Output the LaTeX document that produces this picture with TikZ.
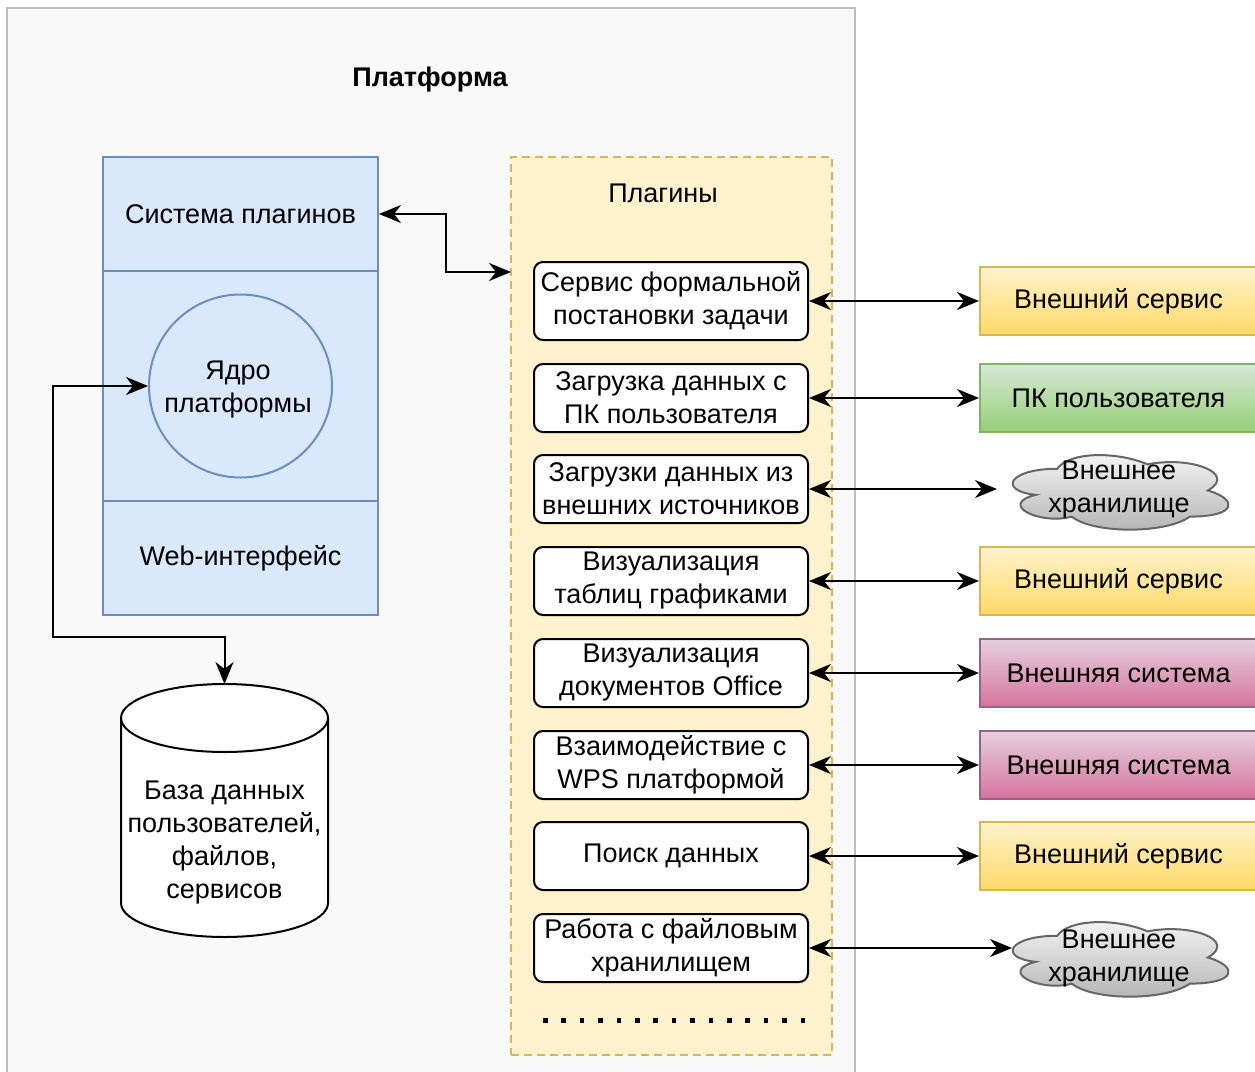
\documentclass[tikz,border=0pt]{standalone}
\usepackage{fontspec}
\setmainfont{Liberation Sans}
\usetikzlibrary{arrows.meta}
\definecolor{bggray}{HTML}{F9F9F9}
\definecolor{bgline}{HTML}{BDBDBD}
\definecolor{bluefill}{HTML}{DAE8FC}
\definecolor{blueline}{HTML}{6C8EBF}
\definecolor{yfill}{HTML}{FFF2CC}
\definecolor{yfill2}{HTML}{FFD966}
\definecolor{yline}{HTML}{D6B656}
\definecolor{gfill}{HTML}{D5E8D4}
\definecolor{gfill2}{HTML}{97D077}
\definecolor{gline}{HTML}{82B366}
\definecolor{pfill}{HTML}{E6D0DE}
\definecolor{pfill2}{HTML}{D5739D}
\definecolor{pline}{HTML}{996185}
\definecolor{cfill}{HTML}{F5F5F5}
\definecolor{cfill2}{HTML}{B3B3B3}
\definecolor{cline}{HTML}{666666}
\tikzset{
  txt/.style={font=\fontsize{27}{33}\selectfont, align=center, inner sep=0pt},
  bluebox/.style={txt, draw=blueline, fill=bluefill, line width=2pt, minimum width=275, minimum height=#1},
  plugbox/.style={txt, draw=black, fill=white, line width=2pt, rounded corners=9pt, minimum width=274, minimum height=#1},
  extbox/.style={txt, line width=2pt, minimum width=277, minimum height=68},
  yellowbox/.style={extbox, draw=yline, top color=yfill, bottom color=yfill2},
  greenbox/.style={extbox, draw=gline, top color=gfill, bottom color=gfill2},
  pinkbox/.style={extbox, draw=pline, top color=pfill, bottom color=pfill2},
  biarr/.style={line width=2pt, {Stealth[length=22pt,width=18pt,inset=7pt]}-{Stealth[length=22pt,width=18pt,inset=7pt]}},
  drawiocloud/.pic={
    \draw[draw=cline, line width=2pt, top color=cfill, bottom color=cfill2]
      (60.25,21.75) .. controls (12.05,21.75) and (0,43.5) .. (38.56,47.85)
      .. controls (0,57.42) and (43.38,78.3) .. (74.71,69.6)
      .. controls (96.4,87) and (168.7,87) .. (192.8,69.6)
      .. controls (241,69.6) and (241,52.2) .. (210.875,43.5)
      .. controls (241,26.1) and (192.8,8.7) .. (150.625,17.4)
      .. controls (120.5,4.35) and (72.3,4.35) .. (60.25,21.75) -- cycle;
  }
}
\begin{document}
\begin{tikzpicture}[x=1pt,y=-1pt]
\useasboundingbox (0,0) rectangle (1255,1071);
\clip (0,0) rectangle (1255,1071);
\fill[white] (0,0) rectangle (1255,1071);
% platform
\node[draw=bgline, fill=bggray, line width=2pt, minimum width=848, minimum height=1080, inner sep=0pt] (plat) at (431,548) {};
\node[txt, font=\fontsize{27}{33}\selectfont\bfseries] (title) at (430,80) {Платформа};
% left block
\node[bluebox=114] (sys) at (240.5,214) {Система плагинов};
\node[bluebox=230] (coreblk) at (240.5,386) {};
\node[bluebox=114] (web) at (240.5,558) {Web-интерфейс};
\node[circle, draw=blueline, fill=bluefill, line width=2pt, minimum size=183, inner sep=0pt] (kernel) at (240.5,386) {};
\node[txt] (kerneltext) at (238,390) {Ядро\\платформы};
% database cylinder
\filldraw[fill=white, draw=black, line width=2pt]
  (121,718) -- (121,903) .. controls (121,921.8) and (167.3,937) .. (224.5,937)
  .. controls (281.7,937) and (328,921.8) .. (328,903) -- (328,718)
  .. controls (328,699.2) and (281.7,684) .. (224.5,684)
  .. controls (167.3,684) and (121,699.2) .. (121,718) -- cycle;
\draw[line width=2pt] (121,718) .. controls (121,736.8) and (167.3,752) .. (224.5,752)
  .. controls (281.7,752) and (328,736.8) .. (328,718);
\coordinate (dbtop) at (224.5,684);
\node[txt] (db) at (224.5,843) {База данных\\пользователей,\\файлов,\\сервисов};
% plugins container
\node[draw=yline, fill=yfill, dashed, dash pattern=on 8pt off 5pt, line width=2pt, minimum width=321, minimum height=898, inner sep=0pt] (cont) at (671.5,606) {};
\node[txt] (plugtitle) at (663,193) {Плагины};
\coordinate (cin) at (511,272);
% plugin boxes
\node[plugbox=78] (p1) at (671,301) {Сервис формальной\\постановки задачи};
\node[plugbox=68] (p2) at (671,398) {Загрузка данных с\\ПК пользователя};
\node[plugbox=68] (p3) at (671,489) {Загрузки данных из\\внешних источников};
\node[plugbox=68] (p4) at (671,581) {Визуализация\\таблиц графиками};
\node[plugbox=68] (p5) at (671,673) {Визуализация\\документов Office};
\node[plugbox=68] (p6) at (671,765) {Взаимодействие с\\WPS платформой};
\node[plugbox=68] (p7) at (671,856) {Поиск данных};
\node[plugbox=68] (p8) at (671,948) {Работа с файловым\\хранилищем};
\foreach \i in {0,...,14} \fill (543+18.4*\i, 1018) rectangle ++(4.5,4.5);
% external
\node[yellowbox] (e1) at (1118.5,301) {Внешний сервис};
\node[greenbox] (e2) at (1118.5,398) {ПК пользователя};
\pic at (997,447) {drawiocloud};
\node[txt] (e3text) at (1119,490) {Внешнее\\хранилище};
\node[yellowbox] (e4) at (1118.5,581) {Внешний сервис};
\node[pinkbox] (e5) at (1118.5,673) {Внешняя система};
\node[pinkbox] (e6) at (1118.5,765) {Внешняя система};
\node[yellowbox] (e7) at (1118.5,856) {Внешний сервис};
\pic at (997,914) {drawiocloud};
\node[txt] (e8text) at (1119,958) {Внешнее\\хранилище};
\coordinate (c3in) at (997,489);
\coordinate (c8in) at (1012,948);
% connectors
\draw[biarr] (sys.east) -- ++(67,0) |- (cin);
\draw[biarr] (dbtop) |- (53,637) |- (kernel.west);
\draw[biarr] (p1.east) -- (p1.east -| e1.west);
\draw[biarr] (p2.east) -- (p2.east -| e2.west);
\draw[biarr] (p3.east) -- (c3in);
\draw[biarr] (p4.east) -- (p4.east -| e4.west);
\draw[biarr] (p5.east) -- (p5.east -| e5.west);
\draw[biarr] (p6.east) -- (p6.east -| e6.west);
\draw[biarr] (p7.east) -- (p7.east -| e7.west);
\draw[biarr] (p8.east) -- (c8in);
\end{tikzpicture}
\end{document}
